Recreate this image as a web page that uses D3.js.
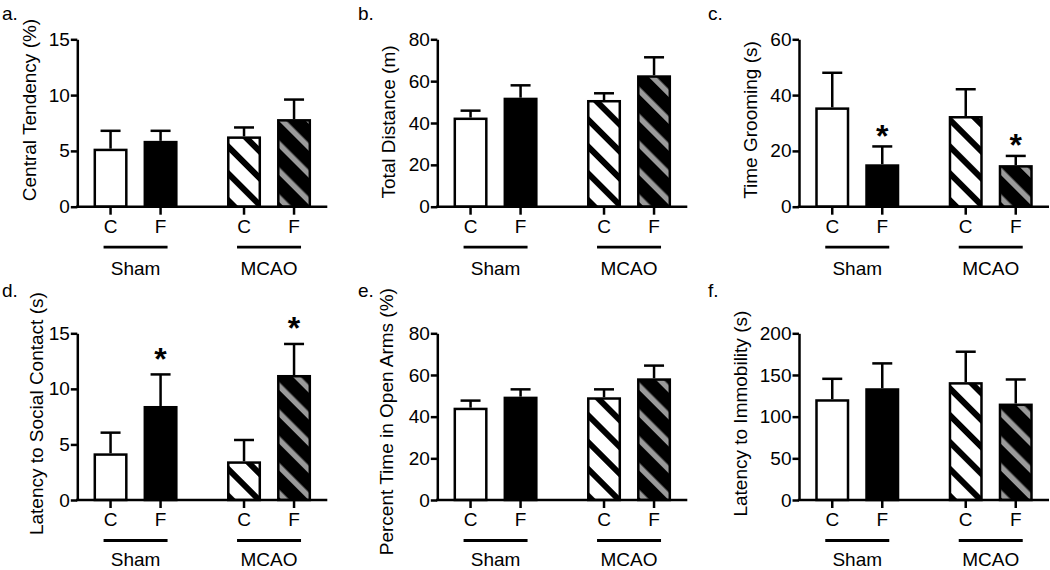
<!DOCTYPE html>
<html>
<head>
<meta charset="utf-8">
<script src="https://cdn.jsdelivr.net/npm/d3@7"></script>
<style>
  html, body { margin: 0; padding: 0; background: #fff; }
  svg { display: block; font-family: "Liberation Sans", Arial, sans-serif; }
</style>
</head>
<body>
<script>
// ---------------- data ----------------
const panelLetters = ["a.", "b.", "c.", "d.", "e.", "f."];
const yTitles = [
  "Central Tendency (%)",
  "Total Distance (m)",
  "Time Grooming (s)",
  "Latency to Social Contact (s)",
  "Percent Time in Open Arms (%)",
  "Latency to Immobility (s)"
];
const yMax  = [15, 80, 60, 15, 80, 200];
const yStep = [5, 20, 20, 5, 20, 50];
const groups = ["Sham", "MCAO"];
const conditions = ["C", "F"];
// order: Sham-C, Sham-F, MCAO-C, MCAO-F
const means = [
  [5.2, 5.9, 6.3, 7.85],
  [42.6, 52.1, 51.0, 62.8],
  [35.6, 15.2, 32.5, 14.9],
  [4.2, 8.46, 3.48, 11.25],
  [44.3, 49.6, 49.3, 58.4],
  [120.9, 134.1, 141.4, 115.7]
];
const sems = [
  [1.6, 0.9, 0.8, 1.75],
  [3.3, 5.9, 3.2, 8.6],
  [12.4, 6.4, 9.6, 3.3],
  [1.86, 2.84, 1.92, 2.79],
  [3.4, 3.5, 3.8, 6.1],
  [24.5, 29.8, 36.5, 28.9]
];
const significant = [
  [false, false, false, false],
  [false, false, false, false],
  [false, true, false, true],
  [false, true, false, true],
  [false, false, false, false],
  [false, false, false, false]
];

// ---------------- layout ----------------
const W = 1050, H = 570;
const FS = 19;
const SW = 2.5;
const colX = [77.3, 437.3, 799];
const rows = [
  { top: 39.3, bot: 206.7, letterY: 20, groupLabelY: 68 },
  { top: 333.3, bot: 500, letterY: 297, groupLabelY: 65.5 }
];
const letterX = [2, 358, 708];
const axisW = 250;
const titleOffsetX = [-41.3, -42.3, -42.3, -34, -44, -52.3];
const titleShiftY = [-13, -1, -3, -3, 5, -3];
const sigGap = [12, 12, 12.5, 17.5, 12, 12];

const svg = d3.select("body").append("svg").attr("width", W).attr("height", H);

const defs = svg.append("defs");
function stripePattern(id, bg, fg, sw) {
  const p = defs.append("pattern")
    .attr("id", id)
    .attr("patternUnits", "userSpaceOnUse")
    .attr("width", 19).attr("height", 19)
    .attr("patternTransform", "rotate(-45)");
  p.append("rect").attr("width", 19).attr("height", 19).attr("fill", bg);
  p.append("rect").attr("x", 0).attr("width", sw).attr("height", 19).attr("fill", fg);
}
stripePattern("stripeW", "#fff", "#000", 6);
stripePattern("stripeG", "#000", "#9a9a9a", 5.5);

const fillFor = (g, c) => {
  if (g === "Sham") return c === "C" ? "#fff" : "#000";
  return c === "C" ? "url(#stripeW)" : "url(#stripeG)";
};

const xg = d3.scaleBand().domain(groups).range([0, axisW]).paddingInner(0.3).paddingOuter(0.0865);
const xc = d3.scaleBand().domain(conditions).range([0, xg.bandwidth()]).paddingInner(0.32).paddingOuter(0.094);

for (let i = 0; i < 6; i++) {
  const col = i % 3, row = Math.floor(i / 3);
  const r = rows[row];
  const x0 = colX[col];
  const g = svg.append("g").attr("transform", `translate(${x0},0)`);
  const y = d3.scaleLinear().domain([0, yMax[i]]).range([r.bot, r.top]);

  const items = [];
  groups.forEach((gr, gi) => conditions.forEach((c, ci) => {
    const k = gi * 2 + ci;
    items.push({ g: gr, c, v: means[i][k], e: sems[i][k], sig: significant[i][k] });
  }));
  const bx = d => xg(d.g) + xc(d.c);
  const bw = xc.bandwidth();

  // error bars (upper only)
  const eb = g.selectAll(".eb").data(items).join("g");
  eb.append("line")
    .attr("x1", d => bx(d) + bw / 2).attr("x2", d => bx(d) + bw / 2)
    .attr("y1", d => y(d.v)).attr("y2", d => y(d.v + d.e))
    .attr("stroke", "#000").attr("stroke-width", SW);
  eb.append("line")
    .attr("x1", d => bx(d) + bw / 2 - 10).attr("x2", d => bx(d) + bw / 2 + 10)
    .attr("y1", d => y(d.v + d.e)).attr("y2", d => y(d.v + d.e))
    .attr("stroke", "#000").attr("stroke-width", SW);

  // bars
  g.selectAll(".bar").data(items).join("rect")
    .attr("x", d => bx(d) + SW / 2)
    .attr("width", bw - SW)
    .attr("y", d => y(d.v) + SW / 2)
    .attr("height", d => y(0) - y(d.v) - SW / 2)
    .attr("fill", d => fillFor(d.g, d.c))
    .attr("stroke", "#000").attr("stroke-width", SW);

  // asterisks
  g.selectAll(".sig").data(items.filter(d => d.sig)).join("text")
    .attr("x", d => bx(d) + bw / 2)
    .attr("y", d => y(d.v + d.e) - sigGap[i] + 12.8)
    .attr("text-anchor", "middle")
    .attr("font-size", 32).attr("font-weight", "bold")
    .text("*");

  // y axis
  const ya = g.append("g").call(
    d3.axisLeft(y).tickValues(d3.range(0, yMax[i] + yStep[i] / 2, yStep[i]))
      .tickSize(6.5).tickSizeOuter(0).tickPadding(1)
  );
  ya.attr("font-family", null);
  ya.select(".domain").attr("stroke-width", SW);
  ya.selectAll(".tick line").attr("stroke-width", SW);
  ya.selectAll(".tick text").attr("font-size", FS).attr("fill", "#000");

  // x axis
  const xPositions = items.map(d => bx(d) + bw / 2);
  const xs = d3.scaleOrdinal().domain(items.map((d, k) => k)).range(xPositions);
  const xa = g.append("g").attr("transform", `translate(0,${y(0)})`);
  xa.append("line").attr("x1", -SW / 2).attr("x2", axisW).attr("y1", 0).attr("y2", 0)
    .attr("stroke", "#000").attr("stroke-width", SW);
  xa.selectAll(".xt").data(items).join("line")
    .attr("x1", (d, k) => xs(k)).attr("x2", (d, k) => xs(k))
    .attr("y1", 0).attr("y2", 8)
    .attr("stroke", "#000").attr("stroke-width", SW);
  xa.selectAll(".xl").data(items).join("text")
    .attr("x", (d, k) => xs(k)).attr("y", 13).attr("dy", "0.71em")
    .attr("text-anchor", "middle").attr("font-size", FS)
    .text(d => d.c);

  // group lines and labels
  const gl = xa.selectAll(".gl").data(groups).join("g")
    .attr("transform", d => `translate(${xg(d) + xg.bandwidth() / 2},0)`);
  gl.append("line").attr("x1", -32).attr("x2", 32).attr("y1", 40.5).attr("y2", 40.5)
    .attr("stroke", "#000").attr("stroke-width", SW + 0.3);
  gl.append("text").attr("y", r.groupLabelY).attr("text-anchor", "middle").attr("font-size", FS).text(d => d);

  // y title
  g.append("text")
    .attr("transform", `translate(${titleOffsetX[i]},${(r.top + r.bot) / 2 + titleShiftY[i]}) rotate(-90)`)
    .attr("text-anchor", "middle").attr("font-size", FS)
    .text(yTitles[i]);

  // panel letter
  svg.append("text").attr("x", letterX[col]).attr("y", r.letterY)
    .attr("font-size", FS).text(panelLetters[i]);
}
</script>
</body>
</html>
